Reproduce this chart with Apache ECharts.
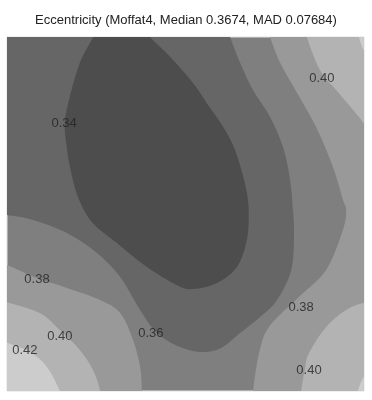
<!DOCTYPE html>
<html>
<head>
<meta charset="utf-8">
<script src="https://cdn.jsdelivr.net/npm/echarts@6/dist/echarts.min.js"></script>
<style>html,body{margin:0;padding:0;background:#fff}#main{width:372px;height:400px}</style>
</head>
<body>
<div id="main"></div>
<script>
// contour lines, x and y run 0..100 across the plate
// (end points sit a little outside so the clip cuts them at the border)
var c034 = [[25.0,103],[24.1,100],[20.4,92.7],[17.6,83.1],[16.2,76],[16.6,70],[17.6,63.5],[19.9,54.8],[23.8,47.7],
  [30.8,41.8],[39.2,35.0],[47.6,29.9],[52.1,28.8],[58.8,30.5],[64.4,35.0],[67.2,42.7],[67.7,51],[67.0,57],
  [65.5,63],[63.3,69.5],[60.0,75.5],[56.5,80.5],[52.1,87.0],[45.7,94.4],[40.1,100],[38.5,103]];
var c036 = [[-3,50.0],[0,49.7],[7.3,48.3],[16.8,44.6],[25.2,39.0],[31.7,32.2],[37.3,22.9],[42.0,16.4],[48.5,12.4],
  [54.1,11.0],[59.7,12.0],[65.3,16.4],[71.0,21.0],[75.1,24.9],[78.7,31.4],[80.1,37.0],[80.4,45.5],[80.1,51.1],
  [79.3,59.6],[77.3,68.9],[73.7,77.4],[68.9,85.0],[65.3,92.7],[62.5,100],[61.5,103]];
var c038L = [[-3,36.2],[0,35.6],[8.4,31.9],[16.8,29.1],[26.1,25.7],[31.7,22.0],[35.3,14.4],[37.3,6.8],[37.8,0],[38.0,-3]];
var c038R = [[73.0,103],[73.7,100],[76.5,92.7],[80.5,85.5],[86.5,74.7],[91.3,63.3],[94.1,54.0],[95.0,51.1],[94.1,45.5],
  [89.4,34.2],[81.8,26.6],[73.4,18.1],[70.6,10.7],[68.9,0],[68.7,-3]];
var c040L = [[-3,25.8],[0,25.1],[9.2,22.0],[14.8,17.2],[20.4,11.6],[24.1,5.9],[26.1,0],[26.4,-3]];
var c040TR = [[83.6,103],[84.0,100],[86.6,92.9],[89.1,88.4],[92.2,85.0],[98.6,77.4],[100,75.7],[103,74.5]];
var c040BR = [[103,24.5],[100,24.9],[95.0,22.9],[89.4,18.1],[84.6,10.7],[83.4,5.9],[82.4,0],[82.2,-3]];
var c042L = [[-3,14.4],[0,13.6],[6.4,11.0],[11.2,6.8],[14.8,0],[15.2,-3]];
var c042TR = [[98.0,103],[98.6,100],[100,96.3],[103,95]];
var c042BR = [[103,5],[100,4.0],[98.3,0],[97.8,-3]];

// contour labels: x, y, text
var labels = [[16.0,75.7,'0.34'],[88.2,88.4,'0.40'],[8.4,31.4,'0.38'],[14.8,15.3,'0.40'],
  [5.0,11.6,'0.42'],[40.3,16.4,'0.36'],[82.4,23.7,'0.38'],[84.6,5.9,'0.40']];

// grey per band: <0.34, 0.34-0.36, 0.36-0.38, 0.38-0.40, 0.40-0.42, >0.42
var greys = ['#4d4d4d','#666666','#7f7f7f','#999999','#b3b3b3','#cccccc'];

function band(line, corners, color){
  return {
    type:'custom', coordinateSystem:'cartesian2d', clip:true, silent:true, data:[[0,0]],
    renderItem:function(params, api){
      var p = line.map(function(q){return api.coord(q)});
      var d = 'M'+p[0][0]+','+p[0][1];
      for(var i=0;i<p.length-1;i++){
        var a=p[i>0?i-1:i], b=p[i], c=p[i+1], e=p[i+2<p.length?i+2:i+1];
        d += 'C'+(b[0]+(c[0]-a[0])/6)+','+(b[1]+(c[1]-a[1])/6)+' '+(c[0]-(e[0]-b[0])/6)+','+(c[1]-(e[1]-b[1])/6)+' '+c[0]+','+c[1];
      }
      corners.forEach(function(q){var k=api.coord(q); d+='L'+k[0]+','+k[1]});
      return {type:'path', shape:{pathData:d+'Z'}, style:{fill:color, stroke:null}};
    }
  };
}

var o = echarts.init(document.getElementById('main'));
option = {
  animation:false,
  title:{text:'Eccentricity (Moffat4, Median 0.3674, MAD 0.07684)', left:'center', top:9,
    textStyle:{fontSize:13, fontWeight:'normal', color:'#222', fontFamily:'Liberation Sans'}},
  grid:{left:7, top:37, width:357, height:354, show:true, backgroundColor:greys[2], borderColor:'#e0e0e0', borderWidth:1},
  xAxis:{type:'value', min:0, max:100, show:false},
  yAxis:{type:'value', min:0, max:100, show:false},
  series:[
    band(c036, [[-3,103]], greys[1]),
    band(c034, [], greys[0]),
    band(c038L, [[-3,-3]], greys[3]),
    band(c038R, [[103,-3],[103,103]], greys[3]),
    band(c040L, [[-3,-3]], greys[4]),
    band(c040TR, [[103,103]], greys[4]),
    band(c040BR, [[103,-3]], greys[4]),
    band(c042L, [[-3,-3]], greys[5]),
    band(c042TR, [[103,103]], greys[5]),
    band(c042BR, [[103,-3]], greys[5]),
    {type:'scatter', symbolSize:0, silent:true, z:10, data:labels,
      label:{show:true, position:'inside', formatter:function(p){return p.value[2]},
        fontSize:13, color:'#222', fontFamily:'Liberation Sans'}}
  ]
};
o.setOption(option);
</script>
</body>
</html>
